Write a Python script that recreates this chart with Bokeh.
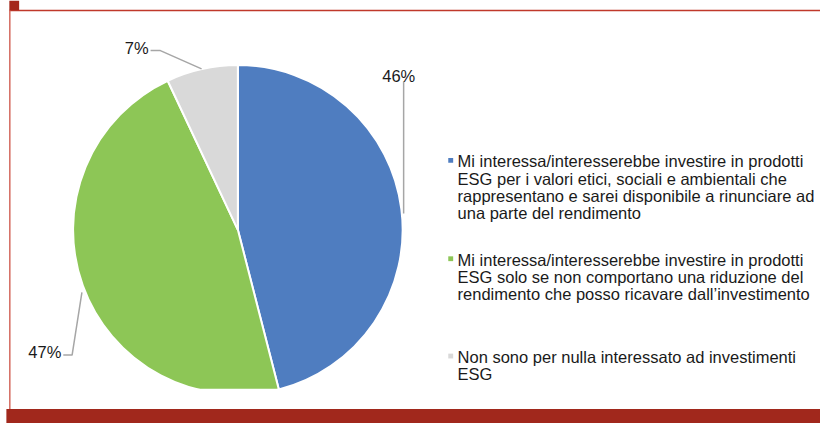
import numpy as np
from bokeh.plotting import figure
from bokeh.models import Range1d, ColumnDataSource
from bokeh.core.properties import value
from bokeh.embed import file_html
from bokeh.resources import INLINE

# ---- data ----
shares = [46, 47, 7]
pct_labels = ["46%", "47%", "7%"]
colors = ["#4F7DC0", "#8DC656", "#D9D9D9"]
legend_lines = [
    ["Mi interessa/interesserebbe investire in prodotti",
     "ESG per i valori etici, sociali e ambientali che",
     "rappresentano e sarei disponibile a rinunciare ad",
     "una parte del rendimento"],
    ["Mi interessa/interesserebbe investire in prodotti",
     "ESG solo se non comportano una riduzione del",
     "rendimento che posso ricavare dall\u2019investimento"],
    ["Non sono per nulla interessato ad investimenti",
     "ESG"],
]

FONT = "Liberation Sans"
W, H = 820, 423
TXT_SHIFT = 4  # compensates baseline offset of rendered text


def Y(yref):
    return 439 - yref


p = figure(width=W, height=H, output_backend="svg", toolbar_location=None,
           x_range=Range1d(0, 836), y_range=Range1d(0, 439),
           min_border=0, outline_line_color=None)
p.axis.visible = False
p.grid.visible = False
p.background_fill_color = "white"
p.border_fill_color = "white"

# ---- pie ----
cx, cy, r = 242, Y(238), 168
frac = np.array(shares, dtype=float) / sum(shares)
cum = np.concatenate([[0], np.cumsum(frac)])
start = np.pi / 2 - 2 * np.pi * cum[:-1]
end = np.pi / 2 - 2 * np.pi * cum[1:]
src = ColumnDataSource(dict(start=start, end=end, color=colors))
p.wedge(x=cx, y=cy, radius=r, start_angle="start", end_angle="end",
        direction="clock", fill_color="color", line_color="white",
        line_width=2, source=src)

# clip bottom of pie like reference
p.quad(left=11, right=836, bottom=Y(424), top=Y(403),
       fill_color="white", line_color=None)

# ---- leader lines ----
lc = "#A6A6A6"
p.line([411, 411], [Y(84), Y(221)], line_color=lc, line_width=1.5)
p.line([153, 163, 205], [Y(52), Y(52), Y(71)], line_color=lc, line_width=1.5)
p.line([64, 73, 83], [Y(368), Y(368), Y(303)], line_color=lc, line_width=1.5)

# ---- percentage labels ----
def label(x, yb, t, align):
    p.text(x=[x], y=[Y(yb - TXT_SHIFT)], text=[t], text_align=align,
           text_baseline="alphabetic", text_font=value(FONT),
           text_font_size="16.5px", text_color="#1a1a1a")


label(406, 82, pct_labels[0], "center")
label(62, 369, pct_labels[1], "right")
label(151, 53, pct_labels[2], "right")

# ---- legend ----
first_baselines = [171, 273, 374]
line_h = 18
for lines, col, b0 in zip(legend_lines, colors, first_baselines):
    p.rect(x=459, y=Y(b0 - 5), width=5, height=5, fill_color=col,
           line_color=None)
    ys = [Y(b0 - TXT_SHIFT + i * line_h) for i in range(len(lines))]
    p.text(x=[466] * len(lines), y=ys, text=lines, text_align="left",
           text_baseline="alphabetic", text_font=value(FONT),
           text_font_size="16.5px", text_color="#1a1a1a")

# ---- frame decorations ----
p.line([9, 836], [Y(10.5), Y(10.5)], line_color="#C0392B", line_width=1.5)
p.line([9.5, 9.5], [Y(10), Y(424)], line_color="#D46A5F", line_width=1.5)
p.quad(left=9, right=19, bottom=Y(10), top=Y(0), fill_color="#A5281C",
       line_color=None)
p.quad(left=6, right=836, bottom=Y(439), top=Y(424), fill_color="#A1281C",
       line_color=None)

open("out.html", "w").write(file_html(p, INLINE))
